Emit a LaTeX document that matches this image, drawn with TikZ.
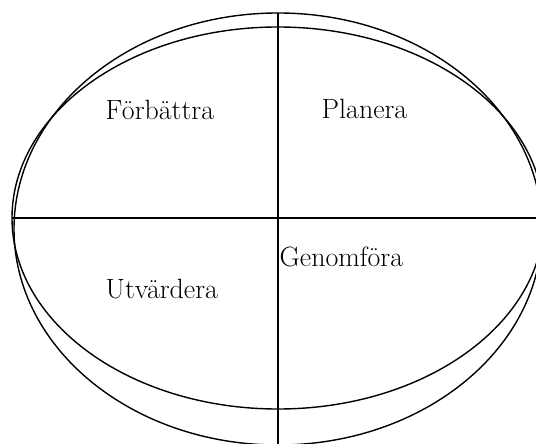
\documentclass[tikz,border=0pt]{standalone}
\usepackage{tikz}
\tikzset{phase/.style={anchor=base west,inner sep=0pt,font=\fontsize{28}{33}\selectfont}}
\begin{document}
\begin{tikzpicture}[x=1bp,y=-1bp,line width=1.4bp]
  \useasboundingbox (0,0) rectangle (536,444);
  \clip (0,0) rectangle (536,444);
  % two slightly offset ovals
  \draw (278,218) ellipse [x radius=266bp, y radius=191bp];
  \draw (278,229) ellipse [x radius=264bp, y radius=216bp];
  % quadrant lines
  \coordinate (top) at (278,12.7);
  \coordinate (bottom) at (278,450);
  \coordinate (left) at (12,218);
  \coordinate (right) at (545,218);
  \draw (top) -- (bottom);
  \draw (left) -- (right);
  \node[phase] (forbattra) at (105,120) {Förbättra};
  \node[phase] (planera) at (321,119) {Planera};
  \node[phase] (utvardera) at (105,298) {Utvärdera};
  \node[phase] (genomfora) at (279,267) {Genomföra};
\end{tikzpicture}
\end{document}
